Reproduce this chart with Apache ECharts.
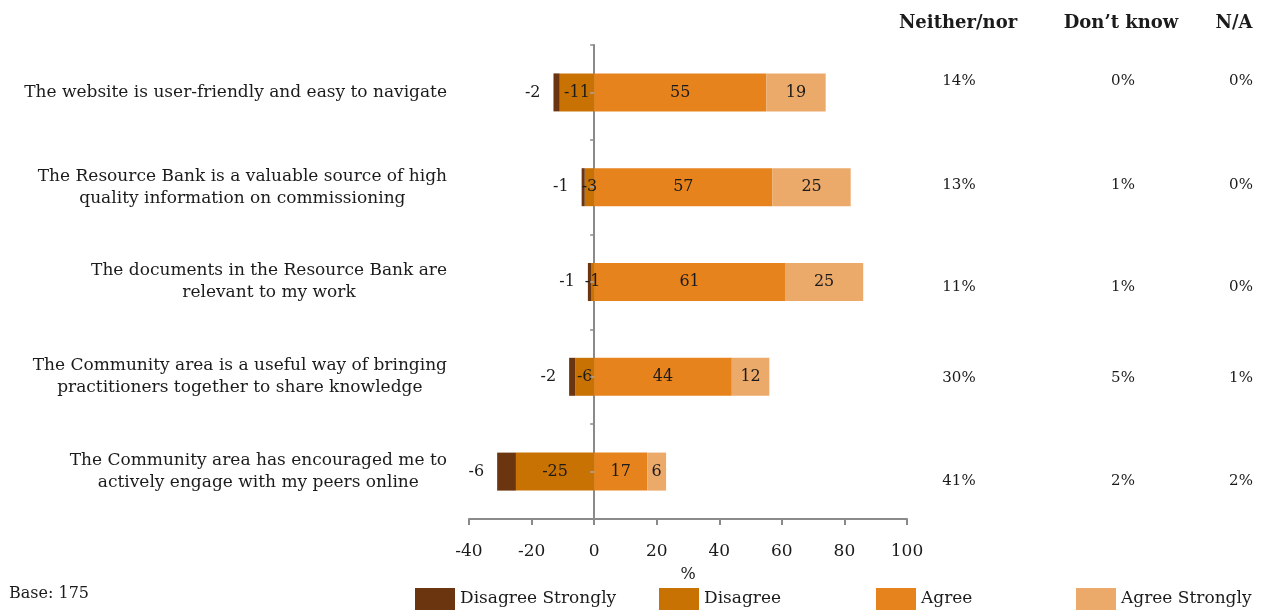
<!DOCTYPE html>
<html>
<head>
<meta charset="utf-8">
<script src="https://cdn.jsdelivr.net/npm/echarts@6/dist/echarts.min.js"></script>
<style>
html,body{margin:0;padding:0;background:#fff;}
#chart{width:1270px;height:610px;}
</style>
</head>
<body>
<div id="chart"></div>
<script>
// ---- data ----
var categories = [
  "The website is user-friendly and easy to navigate",
  "The Resource Bank is a valuable source of high\nquality information on commissioning",
  "The documents in the Resource Bank are\nrelevant to my work",
  "The Community area is a useful way of bringing\npractitioners together to share knowledge",
  "The Community area has encouraged me to\nactively engage with my peers online"
];
var seriesNames = ["Disagree Strongly", "Disagree", "Agree", "Agree Strongly"];
var disagreeStrongly = [-2, -1, -1, -2, -6];
var disagree = [-11, -3, -1, -6, -25];
var agree = [55, 57, 61, 44, 17];
var agreeStrongly = [19, 25, 25, 12, 6];
var xTicks = [-40, -20, 0, 20, 40, 60, 80, 100];
var columnHeaders = ["Neither/nor", "Don\u2019t know", "N/A"];
var neitherNor = ["14%", "13%", "11%", "30%", "41%"];
var dontKnow = ["0%", "1%", "1%", "5%", "2%"];
var notApplicable = ["0%", "0%", "0%", "1%", "2%"];
var baseNote = "Base: 175";

// ---- layout / style ----
var FONT = "DejaVu Serif";
var TXT = "#1b1b1b";
var AXIS = "#8a8a8a";
var colors = {"Disagree Strongly": "#6B3510", "Disagree": "#C87204", "Agree": "#E6831C", "Agree Strongly": "#EBA96A"};
var headerX = [958, 1121, 1234];
var valueX = [959, 1123, 1241];
var rowTextShift = [-11, -2, 5, 1, 10];
var legendLeft = [410, 654, 871, 1071];

var chart = echarts.init(document.getElementById('chart'), null, {renderer: 'canvas'});

function labelCfg(pos, dist) {
  return {show: true, position: pos, distance: dist || 5, color: TXT, fontFamily: FONT, fontSize: 16,
    formatter: function (p) { return String(p.value); }};
}

var series = [
  {name: "Disagree", type: 'bar', stack: 'a', data: disagree, barWidth: 38,
   itemStyle: {color: colors["Disagree"]}, label: labelCfg('inside')},
  {name: "Disagree Strongly", type: 'bar', stack: 'a', data: disagreeStrongly, barWidth: 38,
   itemStyle: {color: colors["Disagree Strongly"]}, label: labelCfg('left', 13)},
  {name: "Agree", type: 'bar', stack: 'a', data: agree, barWidth: 38,
   itemStyle: {color: colors["Agree"]}, label: labelCfg('inside')},
  {name: "Agree Strongly", type: 'bar', stack: 'a', data: agreeStrongly, barWidth: 38,
   itemStyle: {color: colors["Agree Strongly"]}, label: labelCfg('inside')}
];

var legends = seriesNames.map(function (n, i) {
  return {data: [n], left: legendLeft[i], top: 583, itemWidth: 40, itemHeight: 22, itemGap: 0,
    icon: 'rect', selectedMode: false,
    textStyle: {fontFamily: FONT, fontSize: 17, color: TXT}};
});

var option = {
  animation: false,
  backgroundColor: '#fff',
  textStyle: {fontFamily: FONT},
  grid: {left: 469, right: 363, top: 45, bottom: 91, containLabel: false, outerBoundsMode: 'none'},
  legend: legends,
  xAxis: {
    type: 'value', min: xTicks[0], max: xTicks[xTicks.length - 1], interval: 20,
    name: '%', nameLocation: 'middle', nameGap: 48,
    nameTextStyle: {fontFamily: FONT, fontSize: 16, color: TXT},
    axisLine: {show: true, lineStyle: {color: AXIS, width: 2}},
    axisTick: {show: true, length: 6, lineStyle: {color: AXIS, width: 2}},
    axisLabel: {margin: 24, fontFamily: FONT, fontSize: 17, color: TXT},
    splitLine: {show: false}
  },
  yAxis: [
    {
      type: 'category', data: categories, inverse: true, position: 'left',
      axisLine: {show: true, onZero: true, onZeroAxisIndex: 0, lineStyle: {color: AXIS, width: 2}},
      axisTick: {show: true, length: 4, lineStyle: {color: AXIS, width: 1.5}},
      axisLabel: {
        margin: 22, color: TXT, fontFamily: FONT, fontSize: 17,
        formatter: function (v) { return v.split('\n').map(function (l) { return '{c|' + l + '}'; }).join('\n'); },
        rich: {c: {align: 'center', fontFamily: FONT, fontSize: 17, color: TXT, lineHeight: 22}}
      }
    },
    {
      type: 'category', data: categories, inverse: true, position: 'left', z: 5,
      axisLine: {show: false, onZero: true, onZeroAxisIndex: 0},
      axisTick: {show: true, alignWithLabel: true, length: 4, lineStyle: {color: '#a8a8a8', width: 1.5}},
      axisLabel: {show: false}
    }
  ],
  series: series
};
chart.setOption(option);

// right-hand text columns and notes
var graphics = [];
columnHeaders.forEach(function (h, i) {
  graphics.push({type: 'text', x: headerX[i], y: 23,
    style: {text: h, fontFamily: FONT, fontWeight: 'bold', fontSize: 18, fill: TXT, align: 'center', verticalAlign: 'middle'}});
});
var cols = [neitherNor, dontKnow, notApplicable];
categories.forEach(function (c, r) {
  var py = chart.convertToPixel({yAxisIndex: 0}, c);
  cols.forEach(function (col, ci) {
    graphics.push({type: 'text', x: valueX[ci], y: py + rowTextShift[r],
      style: {text: col[r], fontFamily: FONT, fontSize: 15, fill: TXT, align: 'center', verticalAlign: 'middle'}});
  });
});
graphics.push({type: 'text', x: 9, y: 594,
  style: {text: baseNote, fontFamily: FONT, fontSize: 16, fill: TXT, align: 'left', verticalAlign: 'middle'}});
chart.setOption({graphic: graphics});
</script>
</body>
</html>
